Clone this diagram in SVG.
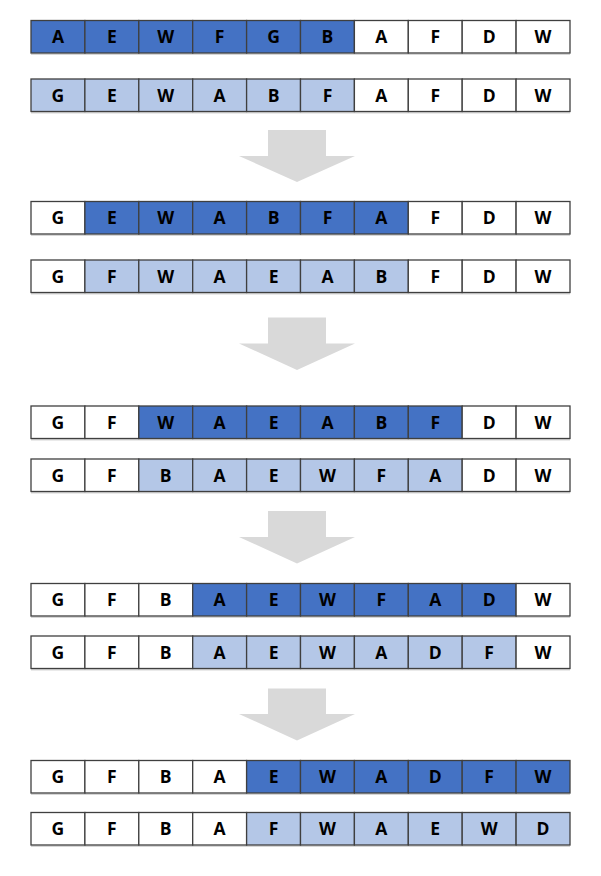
<svg xmlns="http://www.w3.org/2000/svg" width="601" height="876" viewBox="0 0 601 876">
<style>
.c{stroke:#3f3f3f;stroke-width:1.3}
.w{fill:#ffffff}
.d{fill:#4472c4}
.l{fill:#b4c7e7}
.sh{fill:#d6d6d6}
text{font-family:"Open Sans","Noto Sans","DejaVu Sans",sans-serif;font-weight:bold;font-size:17.5px;fill:#000;text-anchor:middle}
.arr{fill:#d9d9d9}
</style>
<rect width="601" height="876" fill="#ffffff"/>
<g id="connectors">
<polygon class="arr" points="268,130 326,130 326,156 355,156 297,182 239,156 268,156"/>
<polygon class="arr" points="268,317.5 326,317.5 326,343.5 355,343.5 297,370 239,343.5 268,343.5"/>
<polygon class="arr" points="268,511 326,511 326,537 355,537 297,563.5 239,537 268,537"/>
<polygon class="arr" points="268,688.5 326,688.5 326,714 355,714 297,740.5 239,714 268,714"/>
</g>
<g id="row1" transform="translate(31,20.5)">
<rect class="sh" x="0" y="33" width="539" height="1.5"/>
<rect class="c d" x="0" y="0" width="53.9" height="32.5"/><text x="26.95" y="22.5">A</text>
<rect class="c d" x="53.9" y="0" width="53.9" height="32.5"/><text x="80.85" y="22.5">E</text>
<rect class="c d" x="107.8" y="0" width="53.9" height="32.5"/><text x="134.75" y="22.5">W</text>
<rect class="c d" x="161.7" y="0" width="53.9" height="32.5"/><text x="188.65" y="22.5">F</text>
<rect class="c d" x="215.6" y="0" width="53.9" height="32.5"/><text x="242.55" y="22.5">G</text>
<rect class="c d" x="269.5" y="0" width="53.9" height="32.5"/><text x="296.45" y="22.5">B</text>
<rect class="c w" x="323.4" y="0" width="53.9" height="32.5"/><text x="350.35" y="22.5">A</text>
<rect class="c w" x="377.3" y="0" width="53.9" height="32.5"/><text x="404.25" y="22.5">F</text>
<rect class="c w" x="431.2" y="0" width="53.9" height="32.5"/><text x="458.15" y="22.5">D</text>
<rect class="c w" x="485.1" y="0" width="53.9" height="32.5"/><text x="512.05" y="22.5">W</text>
</g>
<g id="row2" transform="translate(31,79)">
<rect class="sh" x="0" y="33" width="539" height="1.5"/>
<rect class="c l" x="0" y="0" width="53.9" height="32.5"/><text x="26.95" y="22.5">G</text>
<rect class="c l" x="53.9" y="0" width="53.9" height="32.5"/><text x="80.85" y="22.5">E</text>
<rect class="c l" x="107.8" y="0" width="53.9" height="32.5"/><text x="134.75" y="22.5">W</text>
<rect class="c l" x="161.7" y="0" width="53.9" height="32.5"/><text x="188.65" y="22.5">A</text>
<rect class="c l" x="215.6" y="0" width="53.9" height="32.5"/><text x="242.55" y="22.5">B</text>
<rect class="c l" x="269.5" y="0" width="53.9" height="32.5"/><text x="296.45" y="22.5">F</text>
<rect class="c w" x="323.4" y="0" width="53.9" height="32.5"/><text x="350.35" y="22.5">A</text>
<rect class="c w" x="377.3" y="0" width="53.9" height="32.5"/><text x="404.25" y="22.5">F</text>
<rect class="c w" x="431.2" y="0" width="53.9" height="32.5"/><text x="458.15" y="22.5">D</text>
<rect class="c w" x="485.1" y="0" width="53.9" height="32.5"/><text x="512.05" y="22.5">W</text>
</g>
<g id="row3" transform="translate(31,201.5)">
<rect class="sh" x="0" y="33" width="539" height="1.5"/>
<rect class="c w" x="0" y="0" width="53.9" height="32.5"/><text x="26.95" y="22.5">G</text>
<rect class="c d" x="53.9" y="0" width="53.9" height="32.5"/><text x="80.85" y="22.5">E</text>
<rect class="c d" x="107.8" y="0" width="53.9" height="32.5"/><text x="134.75" y="22.5">W</text>
<rect class="c d" x="161.7" y="0" width="53.9" height="32.5"/><text x="188.65" y="22.5">A</text>
<rect class="c d" x="215.6" y="0" width="53.9" height="32.5"/><text x="242.55" y="22.5">B</text>
<rect class="c d" x="269.5" y="0" width="53.9" height="32.5"/><text x="296.45" y="22.5">F</text>
<rect class="c d" x="323.4" y="0" width="53.9" height="32.5"/><text x="350.35" y="22.5">A</text>
<rect class="c w" x="377.3" y="0" width="53.9" height="32.5"/><text x="404.25" y="22.5">F</text>
<rect class="c w" x="431.2" y="0" width="53.9" height="32.5"/><text x="458.15" y="22.5">D</text>
<rect class="c w" x="485.1" y="0" width="53.9" height="32.5"/><text x="512.05" y="22.5">W</text>
</g>
<g id="row4" transform="translate(31,260)">
<rect class="sh" x="0" y="33" width="539" height="1.5"/>
<rect class="c w" x="0" y="0" width="53.9" height="32.5"/><text x="26.95" y="22.5">G</text>
<rect class="c l" x="53.9" y="0" width="53.9" height="32.5"/><text x="80.85" y="22.5">F</text>
<rect class="c l" x="107.8" y="0" width="53.9" height="32.5"/><text x="134.75" y="22.5">W</text>
<rect class="c l" x="161.7" y="0" width="53.9" height="32.5"/><text x="188.65" y="22.5">A</text>
<rect class="c l" x="215.6" y="0" width="53.9" height="32.5"/><text x="242.55" y="22.5">E</text>
<rect class="c l" x="269.5" y="0" width="53.9" height="32.5"/><text x="296.45" y="22.5">A</text>
<rect class="c l" x="323.4" y="0" width="53.9" height="32.5"/><text x="350.35" y="22.5">B</text>
<rect class="c w" x="377.3" y="0" width="53.9" height="32.5"/><text x="404.25" y="22.5">F</text>
<rect class="c w" x="431.2" y="0" width="53.9" height="32.5"/><text x="458.15" y="22.5">D</text>
<rect class="c w" x="485.1" y="0" width="53.9" height="32.5"/><text x="512.05" y="22.5">W</text>
</g>
<g id="row5" transform="translate(31,406)">
<rect class="sh" x="0" y="33" width="539" height="1.5"/>
<rect class="c w" x="0" y="0" width="53.9" height="32.5"/><text x="26.95" y="22.5">G</text>
<rect class="c w" x="53.9" y="0" width="53.9" height="32.5"/><text x="80.85" y="22.5">F</text>
<rect class="c d" x="107.8" y="0" width="53.9" height="32.5"/><text x="134.75" y="22.5">W</text>
<rect class="c d" x="161.7" y="0" width="53.9" height="32.5"/><text x="188.65" y="22.5">A</text>
<rect class="c d" x="215.6" y="0" width="53.9" height="32.5"/><text x="242.55" y="22.5">E</text>
<rect class="c d" x="269.5" y="0" width="53.9" height="32.5"/><text x="296.45" y="22.5">A</text>
<rect class="c d" x="323.4" y="0" width="53.9" height="32.5"/><text x="350.35" y="22.5">B</text>
<rect class="c d" x="377.3" y="0" width="53.9" height="32.5"/><text x="404.25" y="22.5">F</text>
<rect class="c w" x="431.2" y="0" width="53.9" height="32.5"/><text x="458.15" y="22.5">D</text>
<rect class="c w" x="485.1" y="0" width="53.9" height="32.5"/><text x="512.05" y="22.5">W</text>
</g>
<g id="row6" transform="translate(31,459)">
<rect class="sh" x="0" y="33" width="539" height="1.5"/>
<rect class="c w" x="0" y="0" width="53.9" height="32.5"/><text x="26.95" y="22.5">G</text>
<rect class="c w" x="53.9" y="0" width="53.9" height="32.5"/><text x="80.85" y="22.5">F</text>
<rect class="c l" x="107.8" y="0" width="53.9" height="32.5"/><text x="134.75" y="22.5">B</text>
<rect class="c l" x="161.7" y="0" width="53.9" height="32.5"/><text x="188.65" y="22.5">A</text>
<rect class="c l" x="215.6" y="0" width="53.9" height="32.5"/><text x="242.55" y="22.5">E</text>
<rect class="c l" x="269.5" y="0" width="53.9" height="32.5"/><text x="296.45" y="22.5">W</text>
<rect class="c l" x="323.4" y="0" width="53.9" height="32.5"/><text x="350.35" y="22.5">F</text>
<rect class="c l" x="377.3" y="0" width="53.9" height="32.5"/><text x="404.25" y="22.5">A</text>
<rect class="c w" x="431.2" y="0" width="53.9" height="32.5"/><text x="458.15" y="22.5">D</text>
<rect class="c w" x="485.1" y="0" width="53.9" height="32.5"/><text x="512.05" y="22.5">W</text>
</g>
<g id="row7" transform="translate(31,583.5)">
<rect class="sh" x="0" y="33" width="539" height="1.5"/>
<rect class="c w" x="0" y="0" width="53.9" height="32.5"/><text x="26.95" y="22.5">G</text>
<rect class="c w" x="53.9" y="0" width="53.9" height="32.5"/><text x="80.85" y="22.5">F</text>
<rect class="c w" x="107.8" y="0" width="53.9" height="32.5"/><text x="134.75" y="22.5">B</text>
<rect class="c d" x="161.7" y="0" width="53.9" height="32.5"/><text x="188.65" y="22.5">A</text>
<rect class="c d" x="215.6" y="0" width="53.9" height="32.5"/><text x="242.55" y="22.5">E</text>
<rect class="c d" x="269.5" y="0" width="53.9" height="32.5"/><text x="296.45" y="22.5">W</text>
<rect class="c d" x="323.4" y="0" width="53.9" height="32.5"/><text x="350.35" y="22.5">F</text>
<rect class="c d" x="377.3" y="0" width="53.9" height="32.5"/><text x="404.25" y="22.5">A</text>
<rect class="c d" x="431.2" y="0" width="53.9" height="32.5"/><text x="458.15" y="22.5">D</text>
<rect class="c w" x="485.1" y="0" width="53.9" height="32.5"/><text x="512.05" y="22.5">W</text>
</g>
<g id="row8" transform="translate(31,636)">
<rect class="sh" x="0" y="33" width="539" height="1.5"/>
<rect class="c w" x="0" y="0" width="53.9" height="32.5"/><text x="26.95" y="22.5">G</text>
<rect class="c w" x="53.9" y="0" width="53.9" height="32.5"/><text x="80.85" y="22.5">F</text>
<rect class="c w" x="107.8" y="0" width="53.9" height="32.5"/><text x="134.75" y="22.5">B</text>
<rect class="c l" x="161.7" y="0" width="53.9" height="32.5"/><text x="188.65" y="22.5">A</text>
<rect class="c l" x="215.6" y="0" width="53.9" height="32.5"/><text x="242.55" y="22.5">E</text>
<rect class="c l" x="269.5" y="0" width="53.9" height="32.5"/><text x="296.45" y="22.5">W</text>
<rect class="c l" x="323.4" y="0" width="53.9" height="32.5"/><text x="350.35" y="22.5">A</text>
<rect class="c l" x="377.3" y="0" width="53.9" height="32.5"/><text x="404.25" y="22.5">D</text>
<rect class="c l" x="431.2" y="0" width="53.9" height="32.5"/><text x="458.15" y="22.5">F</text>
<rect class="c w" x="485.1" y="0" width="53.9" height="32.5"/><text x="512.05" y="22.5">W</text>
</g>
<g id="row9" transform="translate(31,760.5)">
<rect class="sh" x="0" y="33" width="539" height="1.5"/>
<rect class="c w" x="0" y="0" width="53.9" height="32.5"/><text x="26.95" y="22.5">G</text>
<rect class="c w" x="53.9" y="0" width="53.9" height="32.5"/><text x="80.85" y="22.5">F</text>
<rect class="c w" x="107.8" y="0" width="53.9" height="32.5"/><text x="134.75" y="22.5">B</text>
<rect class="c w" x="161.7" y="0" width="53.9" height="32.5"/><text x="188.65" y="22.5">A</text>
<rect class="c d" x="215.6" y="0" width="53.9" height="32.5"/><text x="242.55" y="22.5">E</text>
<rect class="c d" x="269.5" y="0" width="53.9" height="32.5"/><text x="296.45" y="22.5">W</text>
<rect class="c d" x="323.4" y="0" width="53.9" height="32.5"/><text x="350.35" y="22.5">A</text>
<rect class="c d" x="377.3" y="0" width="53.9" height="32.5"/><text x="404.25" y="22.5">D</text>
<rect class="c d" x="431.2" y="0" width="53.9" height="32.5"/><text x="458.15" y="22.5">F</text>
<rect class="c d" x="485.1" y="0" width="53.9" height="32.5"/><text x="512.05" y="22.5">W</text>
</g>
<g id="row10" transform="translate(31,812.5)">
<rect class="sh" x="0" y="33" width="539" height="1.5"/>
<rect class="c w" x="0" y="0" width="53.9" height="32.5"/><text x="26.95" y="22.5">G</text>
<rect class="c w" x="53.9" y="0" width="53.9" height="32.5"/><text x="80.85" y="22.5">F</text>
<rect class="c w" x="107.8" y="0" width="53.9" height="32.5"/><text x="134.75" y="22.5">B</text>
<rect class="c w" x="161.7" y="0" width="53.9" height="32.5"/><text x="188.65" y="22.5">A</text>
<rect class="c l" x="215.6" y="0" width="53.9" height="32.5"/><text x="242.55" y="22.5">F</text>
<rect class="c l" x="269.5" y="0" width="53.9" height="32.5"/><text x="296.45" y="22.5">W</text>
<rect class="c l" x="323.4" y="0" width="53.9" height="32.5"/><text x="350.35" y="22.5">A</text>
<rect class="c l" x="377.3" y="0" width="53.9" height="32.5"/><text x="404.25" y="22.5">E</text>
<rect class="c l" x="431.2" y="0" width="53.9" height="32.5"/><text x="458.15" y="22.5">W</text>
<rect class="c l" x="485.1" y="0" width="53.9" height="32.5"/><text x="512.05" y="22.5">D</text>
</g>
</svg>
